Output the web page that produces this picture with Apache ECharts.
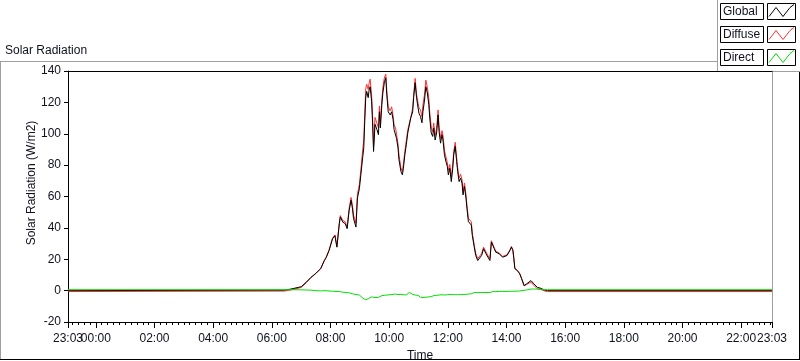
<!DOCTYPE html>
<html>
<head>
<meta charset="utf-8">
<title>Solar Radiation</title>
<script src="https://cdn.jsdelivr.net/npm/echarts@6/dist/echarts.min.js"></script>
<style>
  html, body { margin: 0; padding: 0; background: #fff; }
  #chart { width: 800px; height: 361px; }
</style>
</head>
<body>
<div id="chart"></div>
<script>
// minutes since midnight (23:03 of the day before is -57)
var times = [-57, 385, 399, 420, 430, 440, 450, 460, 467, 471, 477, 484, 489, 493, 498, 500, 505, 510, 514, 518,
  522, 525, 527, 532, 535, 539, 542, 546, 548, 550, 552, 554, 557, 559, 561, 564, 566, 568, 571, 575,
  578, 580, 582, 585, 587, 590, 593, 595, 598, 602, 605, 608, 610, 613, 615, 618, 620, 624, 627, 629,
  632, 635, 638, 641, 644, 648, 650, 653, 656, 659, 661, 664, 667, 669, 672, 675, 678, 681, 683, 686,
  689, 691, 694, 697, 700, 702, 705, 708, 710, 713, 716, 719, 721, 724, 727, 730, 732, 735, 738, 740,
  743, 746, 749, 751, 754, 757, 759, 762, 765, 768, 770, 774, 777, 781, 784, 789, 793, 798, 802, 806,
  809, 812, 815, 818, 821, 825, 828, 832, 836, 841, 844, 847, 850, 853, 855, 857, 862, 867, 871, 876,
  881, 885, 890, 893, 896, 900, 903, 910, 917, 924, 1383];

var globalRad = [0, 0.3, 1, 2.5, 5.3, 8.5, 11, 14, 19, 21, 25.6, 33, 35, 27.7, 42.7, 47, 43.7, 42.7, 39.5, 51,
  57.6, 52, 46, 40.5, 59, 65, 73.8, 85.6, 91, 108, 123, 127, 123, 128, 130, 120.8, 107, 88.7, 106, 102.6,
  99.4, 114, 103.7, 118.6, 126, 132.5, 135.7, 125, 114, 112, 114, 109, 102.6, 101.5, 97, 91, 83.4, 76, 73.8, 78,
  86.6, 93, 100.5, 101.5, 110, 114, 123, 132.5, 123, 116.5, 113, 111, 107, 114, 120.8, 130, 126, 118.6, 110, 100.5,
  98.3, 103.7, 96, 100.5, 112, 101.5, 94, 99.4, 96, 86.6, 82.3, 79, 73.8, 78, 69.5, 78, 86.6, 92, 82.3, 76,
  69.5, 71.7, 68.5, 61, 66.4, 59, 52.5, 44, 45, 41.8, 35.2, 27.7, 22.4, 19.2, 20.3, 22.4, 26.7, 23.5, 21.3, 19.2,
  31, 32, 26.7, 24.5, 25.6, 23.5, 22.4, 21.3, 21.8, 22.4, 23.5, 25.6, 27.7, 25.6, 20.3, 14, 12.8, 10.7, 7.5, 3.2,
  4.3, 4.7, 6.4, 6.8, 4.3, 3.2, 2.1, 1.5, 0.4, 0, 0];

var diffuseRad = [-0.6, -0.3, 0.4, 2.0, 4.9, 8.2, 11.0, 14.2, 19.0, 21.3, 25.8, 33.4, 35.5, 28.1, 43.3, 47.8, 44.7, 43.9, 40.5, 52.4,
  59.4, 54.0, 48.2, 43.0, 61.4, 67.8, 77.0, 90.4, 96.5, 113.0, 128.8, 131.6, 128.2, 132.4, 134.8, 124.8, 111.5, 92.5, 110.4, 106.6,
  103.7, 117.6, 107.6, 121.8, 129.6, 135.5, 138.0, 127.8, 117.4, 114.6, 117.2, 111.4, 105.6, 103.7, 99.8, 93.5, 86.4, 78.4, 75.8, 80.6,
  88.8, 95.7, 102.5, 102.7, 110.2, 116.4, 124.6, 135.3, 125.2, 119.5, 116.6, 115.2, 110.8, 118.4, 124.6, 134.2, 129.6, 122.6, 113.4, 104.3,
  101.3, 106.9, 98.8, 103.5, 115.2, 104.3, 97.0, 102.0, 99.0, 89.4, 85.3, 81.6, 76.6, 80.4, 72.1, 80.5, 88.8, 94.6, 84.7, 78.6,
  71.8, 74.2, 70.7, 63.4, 68.6, 61.4, 54.5, 46.2, 46.8, 43.8, 36.7, 28.9, 23.8, 20.4, 21.3, 23.6, 27.7, 24.7, 22.3, 20.4,
  31.8, 32.6, 27.2, 25.1, 26.0, 24.0, 22.8, 21.8, 22.2, 22.9, 23.8, 26.0, 28.2, 26.0, 20.6, 14.4, 13.1, 10.9, 7.6, 3.0,
  3.9, 3.9, 5.4, 5.6, 3.3, 2.4, 1.1, 0.9, -0.2, -0.6, -0.6];

var directRad = [0.6, 0.6, 0.6, 0.5, 0.4, 0.3, 0.0, -0.2, 0.0, -0.3, -0.2, -0.4, -0.5, -0.4, -0.6, -0.8, -1.0, -1.2, -1.0, -1.4,
  -1.8, -2.0, -2.2, -2.5, -2.4, -2.8, -3.2, -4.8, -5.5, -5.0, -5.8, -4.6, -5.2, -4.4, -4.8, -4.0, -4.5, -3.8, -4.4, -4.0,
  -4.3, -3.6, -3.9, -3.2, -3.6, -3.0, -3.5, -2.8, -3.4, -2.6, -3.2, -2.4, -3.0, -2.2, -2.8, -2.5, -3.0, -2.4, -2.0, -2.6,
  -2.2, -2.7, -2.0, -1.2, -0.2, -2.4, -1.6, -2.8, -2.2, -3.0, -3.6, -4.2, -3.8, -4.4, -3.8, -4.2, -3.6, -4.0, -3.4, -3.8,
  -3.0, -3.2, -2.8, -3.0, -3.2, -2.8, -3.0, -2.6, -3.0, -2.8, -3.0, -2.6, -2.8, -2.4, -2.6, -2.5, -2.2, -2.6, -2.4, -2.6,
  -2.3, -2.5, -2.2, -2.4, -2.2, -2.4, -2.0, -2.2, -1.8, -2.0, -1.5, -1.2, -1.4, -1.2, -1.0, -1.2, -1.0, -1.2, -1.0, -1.2,
  -0.8, -0.6, -0.5, -0.6, -0.4, -0.5, -0.4, -0.5, -0.4, -0.5, -0.3, -0.4, -0.5, -0.4, -0.3, -0.4, -0.3, -0.2, -0.1, 0.2,
  0.4, 0.8, 1.0, 1.2, 1.0, 0.8, 1.0, 0.6, 0.6, 0.6, 0.6];

var hourTicks = [0, 120, 240, 360, 480, 600, 720, 840, 960, 1080, 1200, 1320];
var endTicks = [-57, 1383];
var legendNames = ['Global', 'Diffuse', 'Direct'];
var legendColors = ['#000000', '#ff3030', '#00e000'];

var minorTicks = [];
for (var m = -48; m < 1383; m += 12) minorTicks.push(m);

function pairs(vals) {
  return times.map(function (t, i) { return [t, vals[i]]; });
}

function hhmm(v) {
  var m = ((Math.round(v) % 1440) + 1440) % 1440;
  var h = Math.floor(m / 60), mm = m % 60;
  return (h < 10 ? '0' : '') + h + ':' + (mm < 10 ? '0' : '') + mm;
}

var FONT = 'Liberation Sans';
var TXT = '#101020';

// legend panel drawn as boxes like the original
var legendGraphics = [
  { type: 'rect', shape: { x: 717.5, y: -1, width: 90, height: 72.5 }, style: { fill: '#fff', stroke: '#a0a0a0', lineWidth: 1 } }
];
legendNames.forEach(function (name, i) {
  var y0 = 3.5 + i * 23;
  legendGraphics.push(
    { type: 'rect', shape: { x: 720.5, y: y0, width: 43, height: 16 }, style: { fill: '#fff', stroke: '#000', lineWidth: 1 } },
    { type: 'text', x: 723, y: y0 + 8, style: { text: name, font: '12px ' + FONT, fill: TXT, verticalAlign: 'middle' } },
    { type: 'rect', shape: { x: 767.5, y: y0, width: 28, height: 16 }, style: { fill: '#fff', stroke: '#000', lineWidth: 1 } },
    { type: 'polyline', shape: { points: [[769, y0 + 13], [776, y0 + 4], [783, y0 + 13], [790, y0 + 4], [794, y0 + 1]] },
      style: { stroke: legendColors[i], lineWidth: 1, fill: null } }
  );
});

function timeAxis(extra) {
  var base = {
    type: 'value', min: -57, max: 1383, position: 'bottom',
    axisLine: { show: false, onZero: false },
    axisTick: { show: false },
    axisLabel: { show: false },
    splitLine: { show: false }
  };
  for (var k in extra) base[k] = extra[k];
  return base;
}

var labelStyle = {
  showMinLabel: true, showMaxLabel: true, hideOverlap: false,
  margin: 11, fontFamily: FONT, fontSize: 12, color: TXT, formatter: hhmm
};

var option = {
  animation: false,
  backgroundColor: '#fff',
  grid: { left: 68, right: 28, top: 71, bottom: 39, show: false, outerBoundsMode: 'none', containLabel: false },
  graphic: [
    { type: 'line', shape: { x1: 0, y1: 61.5, x2: 720, y2: 61.5 }, style: { stroke: '#a0a0a0', lineWidth: 1 } },
    { type: 'line', shape: { x1: 0.5, y1: 61.5, x2: 0.5, y2: 360 }, style: { stroke: '#a0a0a0', lineWidth: 1 } },
    { type: 'line', shape: { x1: 0, y1: 359.5, x2: 800, y2: 359.5 }, style: { stroke: '#000', lineWidth: 1 } },
    { type: 'line', shape: { x1: 799.5, y1: 72, x2: 799.5, y2: 360 }, style: { stroke: '#000', lineWidth: 1 } },
    { type: 'text', x: 5, y: 50.5, style: { text: 'Solar Radiation', font: '12px ' + FONT, fill: TXT, verticalAlign: 'middle' } },
    { type: 'text', x: 32, y: 183, rotation: Math.PI / 2,
      style: { text: 'Solar Radiation (W/m2)', font: '12px ' + FONT, fill: TXT, align: 'center', verticalAlign: 'middle' } }
  ].concat(legendGraphics),
  xAxis: [
    timeAxis({
      name: 'Time', nameLocation: 'middle', nameGap: 26,
      nameTextStyle: { fontFamily: FONT, fontSize: 12, color: TXT },
      axisLine: { show: true, onZero: false, lineStyle: { color: '#000', width: 1 } },
      axisTick: { show: true, customValues: hourTicks, length: 6, lineStyle: { color: '#000' } },
      axisLabel: Object.assign({ customValues: hourTicks }, labelStyle)
    }),
    timeAxis({
      axisTick: { show: true, customValues: minorTicks, length: 3, lineStyle: { color: '#000' } }
    }),
    timeAxis({
      axisTick: { show: true, customValues: endTicks, length: 6, lineStyle: { color: '#000' } },
      axisLabel: Object.assign({ show: true, customValues: endTicks }, labelStyle)
    }),
    timeAxis({
      position: 'top',
      axisLine: { show: true, onZero: false, lineStyle: { color: '#000', width: 1 } }
    })
  ],
  yAxis: [
    {
      type: 'value', min: -20, max: 140, interval: 20,
      axisLine: { show: true, onZero: false, lineStyle: { color: '#000', width: 1 } },
      axisTick: { show: true, length: 4, lineStyle: { color: '#000' } },
      axisLabel: { margin: 7, fontFamily: FONT, fontSize: 12, color: TXT },
      splitLine: { show: false }
    },
    {
      type: 'value', min: -20, max: 140, interval: 20, position: 'right',
      axisLine: { show: true, onZero: false, lineStyle: { color: '#a0a0a0', width: 1 } },
      axisTick: { show: false }, axisLabel: { show: false }, splitLine: { show: false }
    }
  ],
  series: [
    { name: 'Diffuse', type: 'line', data: pairs(diffuseRad), showSymbol: false, z: 2,
      lineStyle: { color: legendColors[1], width: 1 }, itemStyle: { color: legendColors[1] } },
    { name: 'Global', type: 'line', data: pairs(globalRad), showSymbol: false, z: 3,
      lineStyle: { color: legendColors[0], width: 1 }, itemStyle: { color: legendColors[0] } },
    { name: 'Direct', type: 'line', data: pairs(directRad), showSymbol: false, z: 4,
      lineStyle: { color: legendColors[2], width: 1 }, itemStyle: { color: legendColors[2] } }
  ]
};

var chart = echarts.init(document.getElementById('chart'));
chart.setOption(option);
</script>
</body>
</html>
